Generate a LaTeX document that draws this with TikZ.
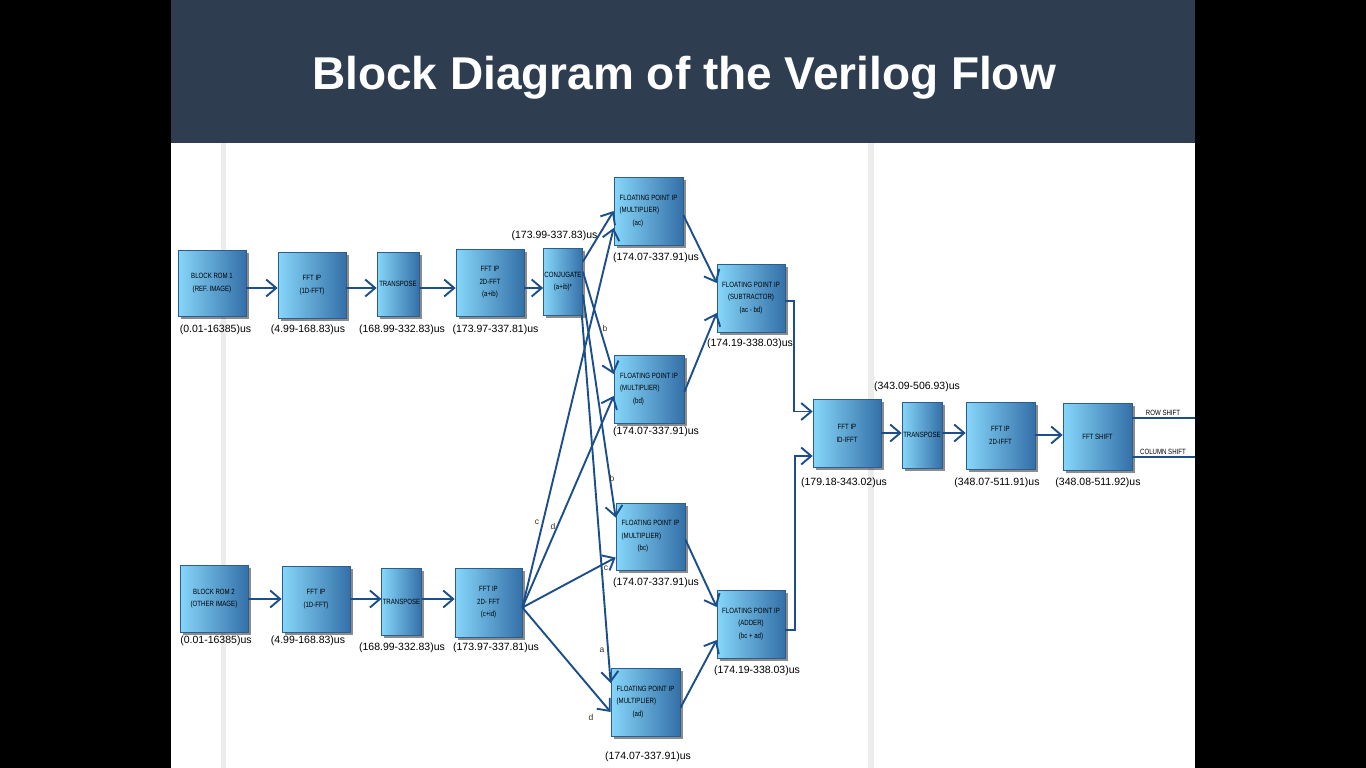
\documentclass[tikz,border=0pt]{standalone}
\usepackage{fontspec}
\setmainfont{Liberation Sans}
\newfontfamily\boxfont[FakeStretch=0.8]{Liberation Sans}
\usetikzlibrary{arrows.meta,shadows,calc}
\definecolor{titlebg}{HTML}{2E3E50}
\definecolor{linec}{HTML}{1C4E8A}
\definecolor{boxl}{HTML}{86D6FA}
\definecolor{boxr}{HTML}{3470A8}
\definecolor{boxd}{HTML}{2B5E8E}
\definecolor{bartint}{HTML}{ECECEC}
\definecolor{elab}{HTML}{3A3020}
\begin{document}
\begin{tikzpicture}[x=1pt,y=-1pt,
 blk/.style={draw=boxd, line width=0.7pt, left color=boxl, right color=boxr, inner sep=1pt, align=center,
   font=\boxfont\fontsize{7.6}{12.5}\selectfont, text=black,
   drop shadow={shadow xshift=2.5pt, shadow yshift=-2.5pt, fill=black, opacity=0.45}},
 tm/.style={font=\fontsize{10.5}{12}\selectfont, inner sep=0pt},
 arr/.style={draw=linec, line width=1.9pt, -{Straight Barb[length=10pt,width=17pt]}},
 ln/.style={draw=linec, line width=1.9pt},
 el/.style={font=\fontsize{8.5}{9}\selectfont, text=elab, inner sep=0pt},
 ol/.style={font=\boxfont\fontsize{7.6}{8}\selectfont, text=black, inner sep=0pt}]
\useasboundingbox (0,0) rectangle (1366,768);
\fill[black] (0,0) rectangle (1366,768);
\fill[white] (171,143) rectangle (1195,768);
\fill[titlebg] (171,0) rectangle (1195,143);
\fill[bartint] (221,143) rectangle (226,768);
\fill[bartint] (868,143) rectangle (874,768);
\node[text=white, font=\bfseries\fontsize{46}{50}\selectfont] (title) at (684,78) {Block Diagram of the Verilog Flow};

% row coordinates
\coordinate (row1) at (0,288);
\coordinate (row2) at (0,599);
\coordinate (row3) at (0,433);
\coordinate (row3b) at (0,435);
\coordinate (rowend) at (1195,418);
\coordinate (colend) at (1195,457);

% boxes row 1
\node[blk, minimum width=68pt, minimum height=66pt] (rom1) at (212,283) {BLOCK ROM 1\\(REF. IMAGE)};
\node[blk, minimum width=68pt, minimum height=66pt] (fft1a) at (312,285) {FFT IP\\(1D-FFT)};
\node[blk, minimum width=42pt, minimum height=64pt] (tr1) at (398,284) {TRANSPOSE};
\node[blk, minimum width=68pt, minimum height=67pt] (fft2a) at (490,282.5) {FFT IP\\2D-FFT\\(a+ib)};
\node[blk, minimum width=38pt, minimum height=67pt] (conj) at (563,281.5) {CONJUGATE\\(a+ib)*};
% boxes row 2
\node[blk, minimum width=68pt, minimum height=67pt] (rom2) at (214,598.5) {BLOCK ROM 2\\(OTHER IMAGE)};
\node[blk, minimum width=68pt, minimum height=66pt] (fft1b) at (316,599) {FFT IP\\(1D-FFT)};
\node[blk, minimum width=39pt, minimum height=67pt] (tr2) at (401.5,601.5) {TRANSPOSE};
\node[blk, minimum width=67pt, minimum height=69pt] (fft2b) at (488.5,602.5) {FFT IP\\2D- FFT\\(c+id)};
% multipliers
\node[blk, align=left, minimum width=69pt, minimum height=68pt] (ac) at (648.5,211) {FLOATING POINT IP\\(MULTIPLIER)\\\hspace*{13pt}(ac)};
\node[blk, align=left, minimum width=70pt, minimum height=68pt] (bd) at (649,389) {FLOATING POINT IP\\(MULTIPLIER)\\\hspace*{13pt}(bd)};
\node[blk, align=left, minimum width=69pt, minimum height=67pt] (bc) at (650.5,536.5) {FLOATING POINT IP\\(MULTIPLIER)\\\hspace*{16pt}(bc)};
\node[blk, align=left, minimum width=69pt, minimum height=68pt] (ad) at (645.5,702) {FLOATING POINT IP\\(MULTIPLIER)\\\hspace*{16pt}(ad)};
% sub / add
\node[blk, minimum width=68pt, minimum height=68pt] (sub) at (751,298) {FLOATING POINT IP\\(SUBTRACTOR)\\(ac - bd)};
\node[blk, minimum width=68pt, minimum height=68pt] (add) at (751,624) {FLOATING POINT IP\\(ADDER)\\(bc + ad)};
% inverse chain
\node[blk, minimum width=68pt, minimum height=68pt] (ifft) at (847,433.5) {FFT IP\\ID-IFFT};
\node[blk, minimum width=40pt, minimum height=66pt] (tr3) at (922,435) {TRANSPOSE};
\node[blk, minimum width=69pt, minimum height=67pt] (ifft2) at (1000.5,435.5) {FFT IP\\2D-IFFT};
\node[blk, minimum width=69pt, minimum height=67pt] (shift) at (1097.5,436.5) {FFT SHIFT};

% time labels
\node[tm] (t-rom1) at (215.5,330) {(0.01-16385)us};
\node[tm] (t-fft1a) at (308,330) {(4.99-168.83)us};
\node[tm] (t-tr1) at (402,330) {(168.99-332.83)us};
\node[tm] (t-fft2a) at (495.5,330) {(173.97-337.81)us};
\node[tm] (t-conj) at (554.5,236) {(173.99-337.83)us};
\node[tm] (t-ac) at (656,258) {(174.07-337.91)us};
\node[tm] (t-bd) at (656,432) {(174.07-337.91)us};
\node[tm] (t-bc) at (656,583) {(174.07-337.91)us};
\node[tm] (t-ad) at (648,757) {(174.07-337.91)us};
\node[tm] (t-sub) at (750,344) {(174.19-338.03)us};
\node[tm] (t-add) at (757,671) {(174.19-338.03)us};
\node[tm] (t-rom2) at (216,641) {(0.01-16385)us};
\node[tm] (t-fft1b) at (308,641) {(4.99-168.83)us};
\node[tm] (t-tr2) at (402,648) {(168.99-332.83)us};
\node[tm] (t-fft2b) at (496,648) {(173.97-337.81)us};
\node[tm] (t-ifft) at (844,483) {(179.18-343.02)us};
\node[tm] (t-tr3) at (917,387) {(343.09-506.93)us};
\node[tm] (t-ifft2) at (997,483) {(348.07-511.91)us};
\node[tm] (t-shift) at (1098,483) {(348.08-511.92)us};

% row 1 arrows
\draw[arr] (rom1.east |- row1) -- (fft1a.west |- row1);
\draw[arr] (fft1a.east |- row1) -- (tr1.west |- row1);
\draw[arr] (tr1.east |- row1) -- (fft2a.west |- row1);
\draw[arr] (fft2a.east |- row1) -- (conj.west |- row1);
% row 2 arrows
\draw[arr] (rom2.east |- row2) -- (fft1b.west |- row2);
\draw[arr] (fft1b.east |- row2) -- (tr2.west |- row2);
\draw[arr] (tr2.east |- row2) -- (fft2b.west |- row2);

% conjugate outputs
\draw[arr] ($(conj.north east)+(0,14)$) -- (ac.west);
\draw[arr] ($(conj.north east)+(0,24)$) -- ($(bd.west)+(0,-15)$);
\draw[arr] ($(conj.north east)+(0,47)$) -- ($(bc.west)+(0,-19)$);
\draw[arr] ($(conj.south east)+(-1,0)$) -- ($(ad.west)+(0,-19)$);
% fft2b outputs
\coordinate (fo) at ($(fft2b.east)+(0,5)$);
\draw[arr] (fo) -- ($(ac.west)+(0,17)$);
\draw[arr] (fo) -- ($(bd.west)+(0,7)$);
\draw[arr] (fo) -- ($(bc.west)+(0,21)$);
\draw[arr] (fo) -- ($(ad.west)+(0,10)$);
% edge labels
\node[el] (lb1) at (605,328) {b};
\node[el] (lb2) at (612,478) {b};
\node[el] (lc1) at (537,522) {c};
\node[el] (ld1) at (553,526) {d};
\node[el] (lc2) at (606,568) {c};
\node[el] (la2) at (602,650) {a};
\node[el] (ld2) at (591,717) {d};

% multiplier outputs
\draw[arr] ($(ac.east)+(0,4)$) -- ($(sub.west)+(0,-15)$);
\draw[arr] ($(bd.east)+(0,3)$) -- ($(sub.west)+(0,15)$);
\draw[arr] ($(bc.east)+(0,3)$) -- ($(add.west)+(0,-17)$);
\draw[arr] ($(ad.east)+(0,6)$) -- ($(add.west)+(0,16)$);
% sub/add to ifft
\draw[arr] ($(sub.east)+(0,3)$) -- ++(9,0) |- ($(ifft.west)+(0,-22)$);
\draw[arr] ($(add.east)+(0,6)$) -- ++(10,0) |- ($(ifft.west)+(0,22.5)$);
% inverse chain
\draw[arr] (ifft.east |- row3) -- (tr3.west |- row3);
\draw[arr] (tr3.east |- row3) -- (ifft2.west |- row3);
\draw[arr] (ifft2.east |- row3b) -- (shift.west |- row3b);
% outputs
\draw[ln] (shift.east |- rowend) -- (rowend);
\draw[ln] (shift.east |- colend) -- (colend);
\node[ol] (lrow) at (1163,413) {ROW SHIFT};
\node[ol] (lcol) at (1163,452) {COLUMN SHIFT};
\end{tikzpicture}
\end{document}
